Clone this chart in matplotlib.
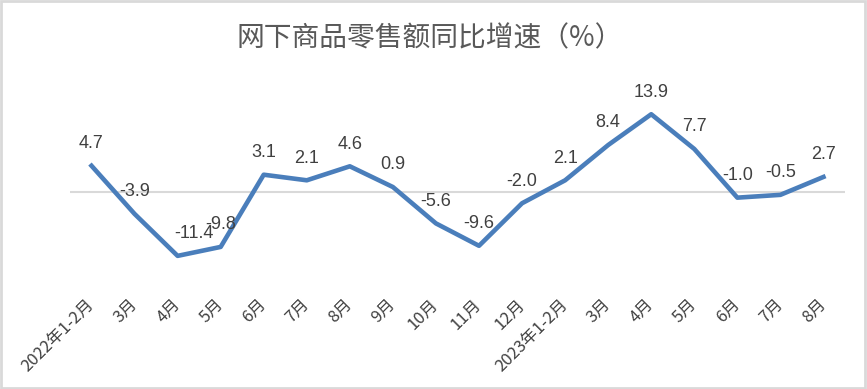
import numpy as np
import matplotlib.pyplot as plt
from matplotlib.patches import Rectangle

plt.rcParams['font.family'] = ['Noto Sans CJK SC', 'DejaVu Sans']

# data
months = ['2022年1-2月', '3月', '4月', '5月', '6月', '7月', '8月', '9月', '10月',
          '11月', '12月', '2023年1-2月', '3月', '4月', '5月', '6月', '7月', '8月']
growth = [4.7, -3.9, -11.4, -9.8, 3.1, 2.1, 4.6, 0.9, -5.6,
          -9.6, -2.0, 2.1, 8.4, 13.9, 7.7, -1.0, -0.5, 2.7]

fig = plt.figure(figsize=(8.67, 3.89), dpi=100)
ax = fig.add_axes([0.0807, 0.2674, 0.8939, 0.5526])

x = np.arange(len(months))
ax.axhline(0, color='#d9d9d9', lw=1.5, zorder=1)
ax.plot(x, growth, color='#4a7ebb', lw=3.3, solid_joinstyle='round', zorder=2)

# data labels above each point (the 4月 one sits a bit to the right in the original)
for i, (xi, v) in enumerate(zip(x, growth)):
    dx = 12 if i == 2 else 0
    ax.annotate(f'{v:.1f}', (xi, v), xytext=(dx, 16), textcoords='offset points',
                ha='center', va='center', fontsize=13, color='#404040',
                family=['Liberation Sans', 'DejaVu Sans'])

ax.set_xlim(-0.5, len(months) - 0.5)
ax.set_ylim(-16.6, 21.8)
ax.set_xticks(x)
ax.set_xticklabels(months, rotation=45, ha='right', va='center',
                   rotation_mode='anchor', fontsize=12, color='#404040')
ax.tick_params(axis='x', length=0, pad=12)
ax.set_yticks([])
for s in ax.spines.values():
    s.set_visible(False)

fig.text(0.496, 0.902, '网下商品零售额同比增速（%）', ha='center', va='center',
         fontsize=20, color='#595959')

# chart area border
fig.patches.append(Rectangle((0.001, 0.002), 0.997, 0.995, transform=fig.transFigure,
                             fill=False, edgecolor='#d9d9d9', lw=2))

fig.savefig('out.png', dpi=100)
